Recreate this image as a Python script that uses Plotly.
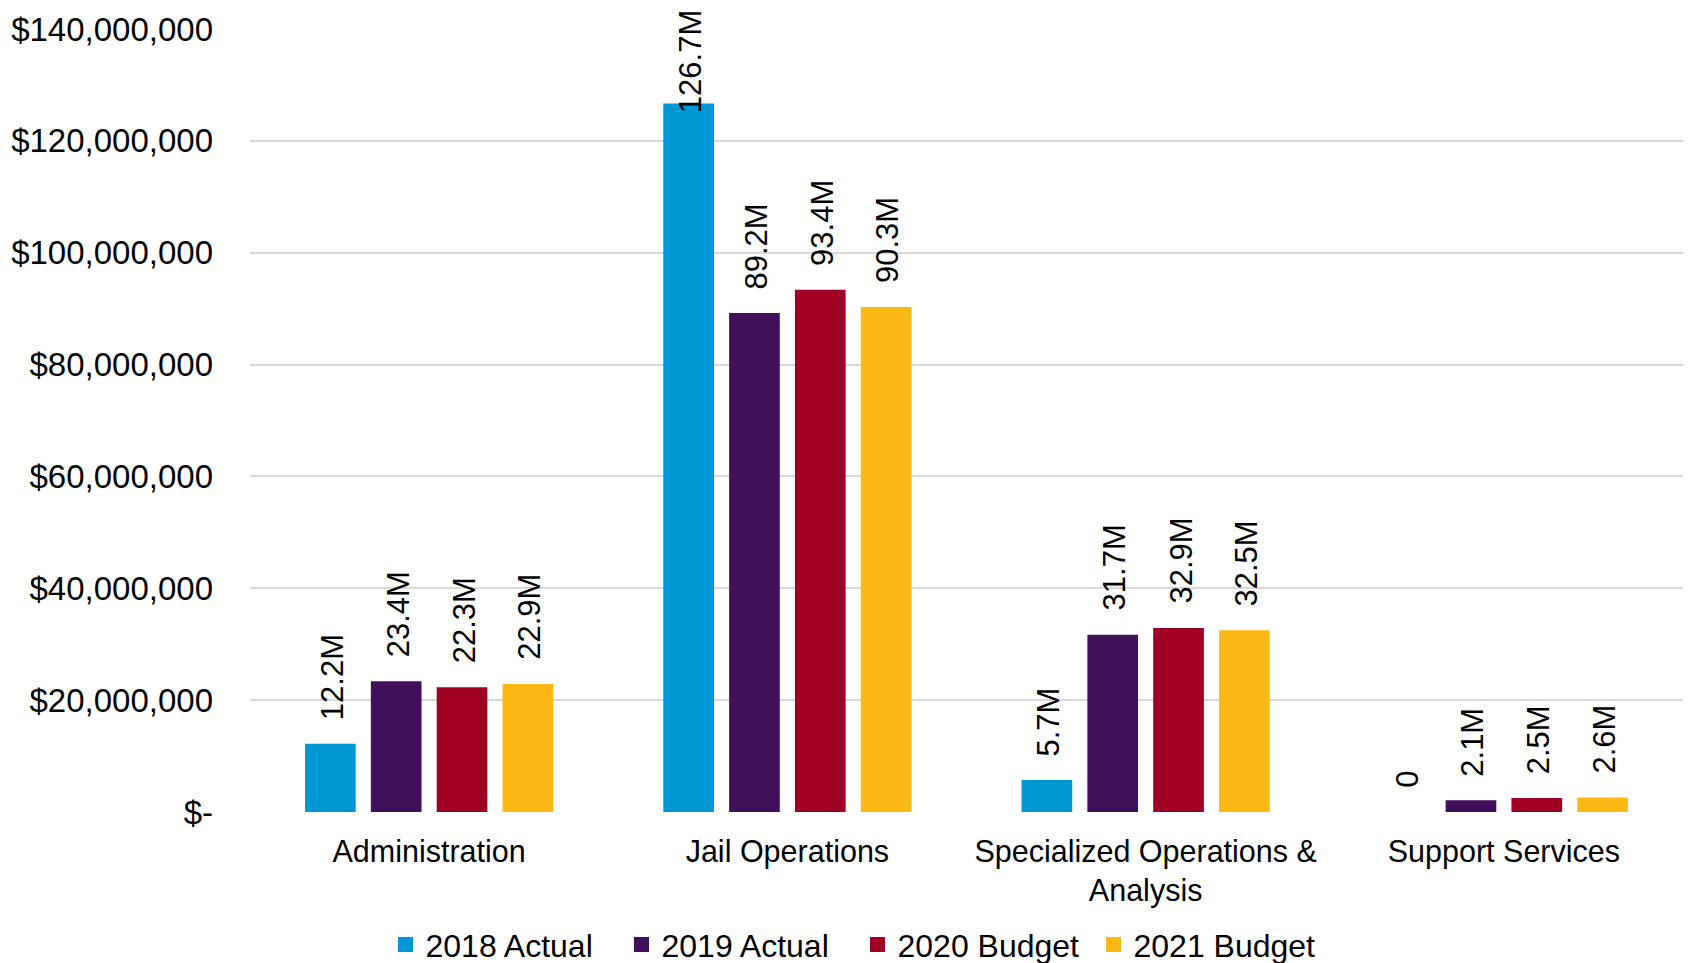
import plotly.graph_objects as go

# Departmental spending by year, in dollars
categories = ["Administration", "Jail Operations", "Specialized Operations & Analysis", "Support Services"]
category_tick_labels = ["Administration", "Jail Operations", "Specialized Operations &<br>Analysis", "Support Services"]
series_names = ["2018 Actual", "2019 Actual", "2020 Budget", "2021 Budget"]
values_2018_actual = [12.2e6, 126.7e6, 5.7e6, 0]
values_2019_actual = [23.4e6, 89.2e6, 31.7e6, 2.1e6]
values_2020_budget = [22.3e6, 93.4e6, 32.9e6, 2.5e6]
values_2021_budget = [22.9e6, 90.3e6, 32.5e6, 2.6e6]
y_tick_values = [0, 20e6, 40e6, 60e6, 80e6, 100e6, 120e6, 140e6]
y_tick_labels = ["$-", "$20,000,000", "$40,000,000", "$60,000,000", "$80,000,000",
                 "$100,000,000", "$120,000,000", "$140,000,000"]

series_values = [values_2018_actual, values_2019_actual, values_2020_budget, values_2021_budget]
series_colors = ["#0098D4", "#40105A", "#A00023", "#FCB815"]

WIDTH, HEIGHT = 1688, 963
MARGIN = dict(l=250, r=5, t=29, b=151)
Y_MAX = 140e6
BARGAP = 0.265
BARGROUPGAP = 0.23
LABEL_FONT = 31
LABEL_GAP = 22
FONT = "Liberation Sans, Arial"

def fmt_millions(v):
    return "0" if v == 0 else f"{v / 1e6:.1f}M"

fig = go.Figure()
x_idx = list(range(len(categories)))
for name, vals, color in zip(series_names, series_values, series_colors):
    fig.add_trace(go.Bar(
        name=name, x=x_idx, y=vals, showlegend=False,
        marker=dict(color=color, line=dict(width=0)),
        hovertext=categories,
    ))
# square legend keys
for name, color in zip(series_names, series_colors):
    fig.add_trace(go.Scatter(
        name=name, x=[None], y=[None], mode="markers",
        marker=dict(symbol="square", size=15, color=color),
    ))

# Rotated value labels above each bar
plot_h = HEIGHT - MARGIN["t"] - MARGIN["b"]
units_per_px = Y_MAX / plot_h
n = len(series_values)
slot = (1 - BARGAP) / n
annotations = []
for i, vals in enumerate(series_values):
    offset = (i - (n - 1) / 2) * slot
    for j, v in enumerate(vals):
        text = fmt_millions(v)
        label_len_px = len(text) * 0.56 * LABEL_FONT
        needed = v + (label_len_px + LABEL_GAP) * units_per_px
        common = dict(x=j + offset, xref="x", yref="y", text=text, textangle=-90,
                      showarrow=False, xshift=2,
                      font=dict(size=LABEL_FONT, color="#000000", family=FONT))
        if needed > Y_MAX + 20 * units_per_px:
            # keep tall labels inside the chart area
            annotations.append(dict(y=Y_MAX, yanchor="top", yshift=21, **common))
        else:
            annotations.append(dict(y=v, yanchor="bottom", yshift=LABEL_GAP, **common))

fig.update_layout(
    width=WIDTH, height=HEIGHT,
    margin=MARGIN,
    paper_bgcolor="white", plot_bgcolor="white",
    barmode="group", bargap=BARGAP, bargroupgap=BARGROUPGAP,
    annotations=annotations,
    font=dict(family=FONT, color="#000000"),
    legend=dict(
        orientation="h", xref="container", yref="container",
        x=0.508, xanchor="center", y=0.019, yanchor="middle",
        font=dict(size=32, family=FONT, color="#000000"),
        itemwidth=30, entrywidth=191, entrywidthmode="pixels",
        traceorder="normal",
    ),
    xaxis=dict(
        tickvals=x_idx, ticktext=category_tick_labels,
        range=[-0.5, len(categories) - 0.5],
        showgrid=False, showline=False, zeroline=False,
        ticks="", ticklabelstandoff=18,
        tickfont=dict(size=30.5, family=FONT, color="#000000"),
    ),
    yaxis=dict(
        range=[0, Y_MAX], tickvals=y_tick_values, ticktext=y_tick_labels,
        showgrid=True, gridcolor="#D9D9D9", gridwidth=1.5,
        zeroline=False, showline=False, ticks="", ticklabelstandoff=36,
        tickfont=dict(size=33, family=FONT, color="#000000"),
    ),
)

fig.write_html("out.html")
